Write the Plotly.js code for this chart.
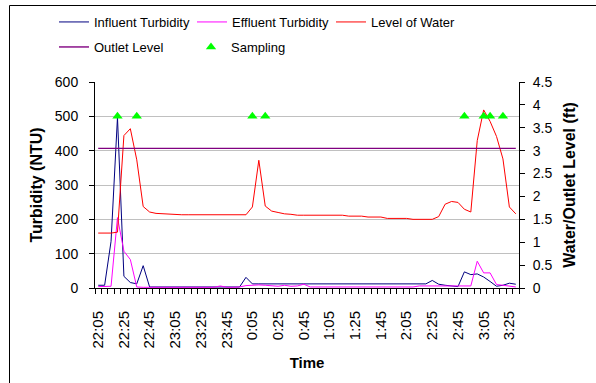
<!DOCTYPE html>
<html>
<head>
<meta charset="utf-8">
<script src="https://cdn.plot.ly/plotly-3.0.1.min.js"></script>
<style>
  html, body { margin: 0; padding: 0; background: #ffffff; overflow: hidden; }
  #chart { width: 596px; height: 383px; }
</style>
</head>
<body>
<div id="chart"></div>
<script>
// ---- Data ----
var times = ["22:05","22:10","22:15","22:20","22:25","22:30","22:35","22:40","22:45","22:50","22:55",
  "23:00","23:05","23:10","23:15","23:20","23:25","23:30","23:35","23:40","23:45","23:50","23:55",
  "0:00","0:05","0:10","0:15","0:20","0:25","0:30","0:35","0:40","0:45","0:50","0:55",
  "1:00","1:05","1:10","1:15","1:20","1:25","1:30","1:35","1:40","1:45","1:50","1:55",
  "2:00","2:05","2:10","2:15","2:20","2:25","2:30","2:35","2:40","2:45","2:50","2:55",
  "3:00","3:05","3:10","3:15","3:20","3:25","3:30"];

var tickLabels = ["22:05","22:25","22:45","23:05","23:25","23:45","0:05","0:25","0:45",
  "1:05","1:25","1:45","2:05","2:25","2:45","3:05","3:25"];

// Influent turbidity (NTU, left axis)
var influent = [8,8,136,497,34,16,12,65,3,
  3,3,3,3,3,3,3,3,3,3,3,3,3,3,
  31,12,
  12,12,12,12,12,12,12,12,12,12,12,12,12,12,12,12,12,12,12,12,12,12,12,12,12,12,12,
  22,11,8,6,4,47,39,41,32,19,5,8,14,11];

// Effluent turbidity (NTU, left axis)
var effluent = [4,4,5,205,107,83,3,
  2,2,2,2,2,2,2,2,2,2,2,2,
  6,2,2,3,7,9,9,8,7,5,8,5,6,11,
  3,3,3,3,3,3,3,3,3,3,3,3,3,3,3,3,3,
  6,6,6,4,4,4,4,6,6,78,44,44,10,8,5,3];

// Level of water (ft, right axis)
var waterLevel = [1.20,1.20,1.20,1.22,3.33,3.48,2.80,1.78,1.66,1.63,1.62,1.61,1.61,
  1.60,1.60,1.60,1.60,1.60,1.60,1.60,1.60,1.60,1.60,1.60,
  1.77,2.79,1.79,1.68,1.65,1.62,1.61,
  1.59,1.59,1.59,1.59,1.59,1.59,1.59,1.59,
  1.57,1.57,1.57,
  1.55,1.55,1.55,
  1.52,1.52,1.52,1.52,
  1.50,1.50,1.50,1.50,
  1.56,1.83,1.89,1.87,1.72,1.66,3.22,3.89,3.64,3.31,2.82,1.77,1.62];

// Outlet level (ft, right axis)
var outletLevel = [3.05,3.05,3.05,3.05,3.05,3.05,3.05,3.05,3.05,3.05,3.05,3.05,3.05,
  3.05,3.05,3.05,3.05,3.05,3.05,3.05,3.05,3.05,3.05,3.05,3.05,3.05,
  3.05,3.05,3.05,3.05,3.05,3.05,3.05,3.05,3.05,3.05,3.05,3.05,3.05,
  3.05,3.05,3.05,3.05,3.05,3.05,3.05,3.05,3.05,3.05,3.05,3.05,3.05,
  3.05,3.05,3.05,3.05,3.05,3.05,3.05,3.05,3.05,3.05,3.05,3.05,3.05,3.05];

// Sampling events (marker height on right axis, ft)
var samplingTimes = ["22:20","22:35","0:05","0:15","2:50","3:05","3:10","3:20"];
var samplingLevel = [3.75,3.75,3.75,3.75,3.75,3.75,3.75,3.75];

// ---- Build chart ----
var ticktext = times.map(function (t) { return tickLabels.indexOf(t) >= 0 ? t : ''; });
var FONT = '"Liberation Sans", Arial, sans-serif';

var L = 95, R = 77, T = 82, B = 95, W = 596, H = 383;
var pw = W - L - R, ph = H - T - B;
function px2x(p) { return (p - L) / pw; }
function px2y(p) { return (H - B - p) / ph; }

var traces = [
  { x: times, y: influent, name: 'Influent Turbidity', type: 'scatter', mode: 'lines',
    line: { color: '#000080', width: 1 }, yaxis: 'y', legend: 'legend' },
  { x: times, y: effluent, name: 'Effluent Turbidity', type: 'scatter', mode: 'lines',
    line: { color: '#FF00FF', width: 1 }, yaxis: 'y', legend: 'legend2' },
  { x: times, y: waterLevel, name: 'Level of Water', type: 'scatter', mode: 'lines',
    line: { color: '#FF0000', width: 1 }, yaxis: 'y2', legend: 'legend3' },
  { x: times, y: outletLevel, name: 'Outlet Level', type: 'scatter', mode: 'lines',
    line: { color: '#800080', width: 1.4 }, yaxis: 'y2', legend: 'legend4' },
  { x: samplingTimes, y: samplingLevel, name: 'Sampling', type: 'scatter', mode: 'markers',
    marker: { symbol: 'triangle-up', size: 9, color: '#00FF00', line: { width: 0 } },
    yaxis: 'y2', legend: 'legend5' }
];

function leg(xpx, ypx) {
  return {
    orientation: 'h', x: px2x(xpx), xanchor: 'left', y: px2y(ypx), yanchor: 'middle',
    font: { family: FONT, size: 13, color: '#000000' },
    bgcolor: 'rgba(0,0,0,0)', borderwidth: 0
  };
}

var layout = {
  width: W, height: H,
  margin: { l: L, r: R, t: T, b: B, pad: 0, autoexpand: false },
  paper_bgcolor: '#ffffff',
  plot_bgcolor: '#ffffff',
  font: { family: FONT, size: 13, color: '#000000' },
  showlegend: true,
  xaxis: {
    type: 'category', automargin: false,
    range: [-0.5, times.length - 0.5], autorange: false,
    tickmode: 'array', tickvals: times, ticktext: ticktext,
    tickson: 'boundaries',
    ticks: 'outside', ticklen: 5, tickcolor: '#000000', tickwidth: 1,
    tickangle: -90,
    tickfont: { family: FONT, size: 15, color: '#000000' },
    ticklabelstandoff: 16,
    showline: true, linecolor: '#000000', linewidth: 1,
    showgrid: false, zeroline: false,
    title: { text: 'Time', font: { family: FONT, size: 15, color: '#000000', weight: 'bold' }, standoff: 9 }
  },
  yaxis: {
    automargin: false,
    range: [0, 600], dtick: 100, tick0: 0,
    ticks: 'outside', ticklen: 5, tickcolor: '#000000',
    tickfont: { family: FONT, size: 14, color: '#000000' },
    ticklabelstandoff: 8,
    showline: true, linecolor: '#000000', linewidth: 1,
    showgrid: true, gridcolor: '#C0C0C0', gridwidth: 1,
    zeroline: false,
    title: { text: 'Turbidity (NTU)', font: { family: FONT, size: 16, color: '#000000', weight: 'bold' }, standoff: 8 }
  },
  yaxis2: {
    automargin: false,
    overlaying: 'y', side: 'right', anchor: 'x',
    range: [0, 4.5], dtick: 0.5, tick0: 0,
    ticks: 'outside', ticklen: 5, tickcolor: '#000000',
    tickfont: { family: FONT, size: 14, color: '#000000' },
    ticklabelstandoff: 5,
    showline: true, linecolor: '#000000', linewidth: 1,
    showgrid: false, zeroline: false,
    title: { text: 'Water/Outlet Level (ft)', font: { family: FONT, size: 16, color: '#000000', weight: 'bold' }, standoff: 12 }
  },
  legend: leg(54, 22),
  legend2: leg(192, 22),
  legend3: leg(331, 22),
  legend4: leg(54, 47),
  legend5: leg(191, 47),
  shapes: [
    { type: 'rect', xref: 'paper', yref: 'paper',
      x0: px2x(9.5), x1: px2x(610), y0: px2y(5.5), y1: px2y(400),
      line: { color: '#000000', width: 1 }, fillcolor: 'rgba(0,0,0,0)', layer: 'below' }
  ]
};

Plotly.newPlot('chart', traces, layout, { staticPlot: true, displayModeBar: false });
</script>
</body>
</html>
